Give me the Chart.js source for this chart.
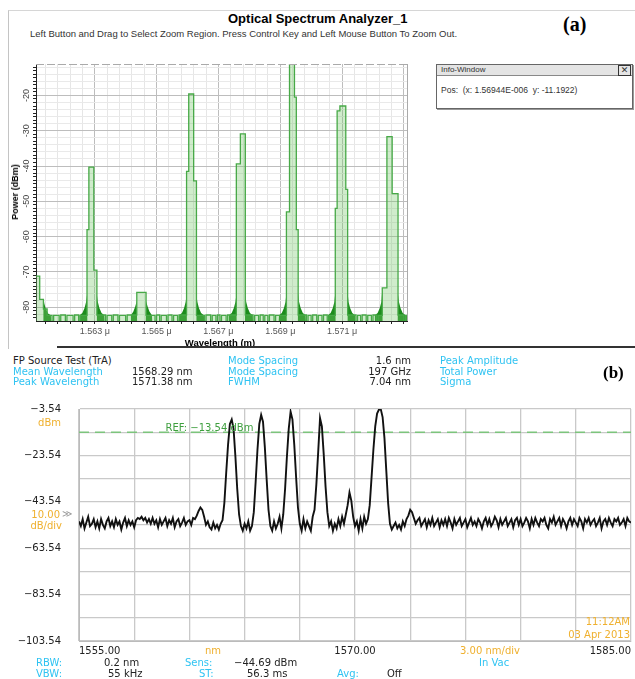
<!DOCTYPE html>
<html>
<head>
<meta charset="utf-8">
<script src="https://cdn.jsdelivr.net/npm/chart.js@4.4.1/dist/chart.umd.min.js"></script>
<style>
body { margin:0; width:635px; height:679px; background:#fff; position:relative; overflow:hidden; font-family:"Liberation Sans", Arial, sans-serif; }
.t { position:absolute; white-space:nowrap; }
.b { font:10px "DejaVu Sans"; line-height:11px; color:#222; }
.cy { color:#2fc3f2; }
.or { color:#efb02e; }
.r { text-align:right; }
</style>
</head>
<body>

<!-- (a) optical spectrum analyzer window -->
<div style="position:absolute;left:8px;top:10px;width:627px;height:338px;border-left:1px solid #c4c4c4;border-top:1px solid #d6d6d6"></div>
<div class="t" style="left:228px;top:11px;font:bold 13px 'Liberation Sans'">Optical Spectrum Analyzer_1</div>
<div class="t" style="left:30px;top:28px;font:9.5px 'Liberation Sans';color:#333">Left Button and Drag to Select Zoom Region. Press Control Key and Left Mouse Button To Zoom Out.</div>
<div class="t" style="left:563px;top:13px;font:bold 20px 'Liberation Serif'">(a)</div>

<div style="position:absolute;left:436px;top:64px;width:195px;height:43px;border:1px solid #666;box-shadow:1px 1px 0 #999;background:#fff">
  <div style="position:relative;height:10px;background:#e4e4e4;border-bottom:1px solid #888;font:8px 'Liberation Sans';line-height:10px;padding-left:4px;color:#333">Info-Window
    <div style="position:absolute;right:1px;top:0;width:11px;height:9px;border:1px solid #333;font:bold 9px 'DejaVu Sans';line-height:9px;text-align:center">&#x2715;</div>
  </div>
  <div style="font:8.5px 'Liberation Sans';padding:9px 0 0 4px;color:#333;white-space:nowrap">Pos:&nbsp; (x: 1.56944E-006&nbsp; y: -11.1922)</div>
</div>

<div style="position:absolute;left:0;top:50px"><canvas id="osa" width="420" height="300"></canvas></div>
<div class="t" style="left:15px;top:192px;transform:translate(-50%,-50%) rotate(-90deg);font:bold 9px 'Liberation Sans'">Power (dBm)</div>
<div class="t" style="left:220px;top:342px;transform:translate(-50%,-50%);font:bold 9.5px 'Liberation Sans'">Wavelength (m)</div>
<div style="position:absolute;left:57px;top:346px;width:578px;height:2px;background:#333"></div>

<!-- (b) FP source test -->
<div class="t b" style="left:13px;top:355px">FP Source Test (TrA)</div>
<div class="t b cy" style="left:228px;top:355px">Mode Spacing</div>
<div class="t b r" style="right:224px;top:355px">1.6 nm</div>
<div class="t b cy" style="left:440px;top:355px">Peak Amplitude</div>

<div class="t b cy" style="left:13px;top:366px">Mean Wavelength</div>
<div class="t b" style="left:132px;top:366px">1568.29 nm</div>
<div class="t b cy" style="left:228px;top:366px">Mode Spacing</div>
<div class="t b r" style="right:224px;top:366px">197 GHz</div>
<div class="t b cy" style="left:440px;top:366px">Total Power</div>
<div class="t" style="left:603px;top:363px;font:bold 17px 'Liberation Serif'">(b)</div>

<div class="t b cy" style="left:13px;top:376px">Peak Wavelength</div>
<div class="t b" style="left:132px;top:376px">1571.38 nm</div>
<div class="t b cy" style="left:228px;top:376px">FWHM</div>
<div class="t b r" style="right:224px;top:376px">7.04 nm</div>
<div class="t b cy" style="left:440px;top:376px">Sigma</div>

<div style="position:absolute;left:0;top:385px"><canvas id="fp" width="635" height="285"></canvas></div>

<div class="t b or r" style="right:574px;top:417px">dBm</div>
<div class="t b or r" style="right:575px;top:509px">10.00</div>
<div class="t" style="left:62px;top:508px;font:10px 'DejaVu Sans';color:#999">&#x226B;</div>
<div class="t b or r" style="right:573px;top:520px">dB/div</div>

<div class="t b or" style="left:205px;top:645px">nm</div>
<div class="t b or" style="left:460px;top:645px">3.00 nm/div</div>
<div class="t b or r" style="right:5px;top:616px">11:12AM</div>
<div class="t b or r" style="right:5px;top:629px">03 Apr 2013</div>

<div class="t b cy" style="left:36px;top:657px">RBW:</div>
<div class="t b" style="left:104px;top:657px">0.2 nm</div>
<div class="t b cy" style="left:185px;top:657px">Sens:</div>
<div class="t b" style="left:234px;top:657px">&minus;44.69 dBm</div>
<div class="t b cy" style="left:479px;top:657px">In Vac</div>
<div class="t b cy" style="left:36px;top:668px">VBW:</div>
<div class="t b" style="left:108px;top:668px">55 kHz</div>
<div class="t b cy" style="left:199px;top:668px">ST:</div>
<div class="t b" style="left:247px;top:668px">56.3 ms</div>
<div class="t b cy" style="left:337px;top:668px">Avg:</div>
<div class="t b" style="left:387px;top:668px">Off</div>

<script>
// (a) OSA trace, stepped: each power holds from its wavelength to the next (nm, dBm)
const osaWl = [
  1561.10, 1561.22, 1561.34, 1561.46, 1561.62, 1561.67, 1561.85, 1561.90, 1562.05, 1562.10,
  1562.30, 1562.35, 1562.48, 1562.53, 1562.75, 1562.81, 1562.97, 1563.07, 1563.35, 1563.40,
  1563.55, 1563.60, 1563.75, 1563.80, 1564.00, 1564.05, 1564.36, 1564.66, 1564.95, 1565.00,
  1565.10, 1565.15, 1565.32, 1565.37, 1565.50, 1565.55, 1565.68, 1565.73, 1565.97, 1566.04,
  1566.20, 1566.29, 1566.55, 1566.60, 1566.75, 1566.80, 1566.92, 1566.97, 1567.05, 1567.10,
  1567.25, 1567.30, 1567.58, 1567.71, 1567.87, 1568.12, 1568.17, 1568.30, 1568.35, 1568.45,
  1568.50, 1568.60, 1568.65, 1568.80, 1568.85, 1569.20, 1569.30, 1569.46, 1569.52, 1569.58,
  1569.85, 1569.90, 1570.00, 1570.05, 1570.18, 1570.23, 1570.35, 1570.40, 1570.52, 1570.57,
  1570.78, 1570.84, 1570.93, 1571.12, 1571.18, 1571.45, 1571.50, 1571.60, 1571.65, 1571.78,
  1571.83, 1571.95, 1572.00, 1572.12, 1572.17, 1572.30, 1572.45, 1572.62, 1572.81, 1573.00,
  1573.05, 1573.10];
const osaDbm = [
  -71.2, -77.8, -80.5, -82.3, -84, -82.3, -84, -82.2, -84, -82.3,
  -84, -82.2, -84, -82.3, -58.0, -40.3, -69.5, -82.2, -84, -82.3,
  -84, -82.2, -84, -82.3, -84, -82.2, -75.8, -82.3, -84, -82.2,
  -84, -82.3, -84, -82.2, -84, -82.3, -84, -82.2, -41.5, -19.6,
  -44.2, -82.3, -84, -82.2, -84, -82.3, -84, -82.2, -84, -82.3,
  -84, -82.2, -39.4, -30.9, -82.2, -84, -82.3, -84, -82.2, -84,
  -82.3, -84, -82.2, -84, -82.3, -53.0, -11.2, -20.5, -58.0, -82.2,
  -84, -82.3, -84, -82.2, -84, -82.3, -84, -82.2, -84, -82.3,
  -52.0, -24.4, -23.0, -46.6, -82.2, -84, -82.3, -84, -82.2, -84,
  -82.3, -84, -82.2, -84, -82.3, -74.5, -31.7, -47.8, -82.2, -84,
  -82.3, -82.3];

// dark noise skirts at the foot of every line
const osaSkirtWl = [
  1561.10, 1561.33, 1561.34, 1561.37, 1561.42, 1561.49, 1561.58, 1561.59,
  1562.50, 1562.51, 1562.60, 1562.67, 1562.72, 1562.75, 1562.76, 1563.06, 1563.07, 1563.10, 1563.15, 1563.22, 1563.31, 1563.32,
  1564.16, 1564.17, 1564.25, 1564.31, 1564.36, 1564.37, 1564.65, 1564.66, 1564.71, 1564.77, 1564.85, 1564.86,
  1565.72, 1565.73, 1565.82, 1565.89, 1565.94, 1565.97, 1565.98, 1566.28, 1566.29, 1566.32, 1566.37, 1566.44, 1566.53, 1566.54,
  1567.33, 1567.34, 1567.43, 1567.50, 1567.55, 1567.58, 1567.59, 1567.86, 1567.87, 1567.90, 1567.95, 1568.02, 1568.11, 1568.12,
  1568.95, 1568.96, 1569.05, 1569.12, 1569.17, 1569.20, 1569.21, 1569.57, 1569.58, 1569.61, 1569.66, 1569.73, 1569.82, 1569.83,
  1570.53, 1570.54, 1570.63, 1570.70, 1570.75, 1570.78, 1570.79, 1571.17, 1571.18, 1571.21, 1571.26, 1571.33, 1571.42, 1571.43,
  1572.05, 1572.06, 1572.15, 1572.22, 1572.27, 1572.30, 1572.31, 1572.80, 1572.81, 1572.84, 1572.89, 1572.96, 1573.05, 1573.10];
const osaSkirtDbm = [
  -84, -84, -77.5, -79.0, -80.5, -81.8, -82.3, -84,
  -84, -82.3, -81.6, -80.2, -78.5, -76.5, -84, -84, -76.5, -78.5, -80.2, -81.6, -82.3, -84,
  -84, -82.3, -81.2, -79.8, -78.2, -84, -84, -78.2, -79.8, -81.2, -82.3, -84,
  -84, -82.3, -81.6, -80.2, -78.5, -76.5, -84, -84, -76.5, -78.5, -80.2, -81.6, -82.3, -84,
  -84, -82.3, -81.6, -80.2, -78.5, -76.5, -84, -84, -76.5, -78.5, -80.2, -81.6, -82.3, -84,
  -84, -82.3, -81.6, -80.2, -78.5, -76.0, -84, -84, -76.0, -78.5, -80.2, -81.6, -82.3, -84,
  -84, -82.3, -81.6, -80.2, -78.5, -76.0, -84, -84, -76.0, -78.5, -80.2, -81.6, -82.3, -84,
  -84, -82.3, -81.6, -80.2, -78.5, -75.0, -84, -84, -76.5, -78.5, -80.2, -81.6, -82.3, -82.3];

const osaYLabels = [-80, -70, -60, -50, -40, -30, -20];
const osaXLabels = [1563, 1565, 1567, 1569, 1571];

// (b) FP source trace, one reading every 0.1 nm from 1555.0 nm (dBm)
const fpStart = 1555.0;
const fpStep = 0.1;
const fpDbm = [
  -52, -54, -51, -55, -52.5, -50, -54, -53, -51, -54.5,
  -52, -55, -51, -53.5, -55, -52, -50.5, -54, -52, -54.5,
  -51, -53.5, -52, -55.5, -52.5, -50.5, -54, -51.5, -53.5, -52,
  -54.5, -51.5, -50.5, -51, -50, -51.5, -50.5, -52.5, -51, -53,
  -50.5, -53, -51.5, -54.5, -51, -53.5, -52, -50.5, -54, -51.5,
  -53, -50.5, -54.5, -52, -51, -54, -52.5, -50.5, -53.5, -52,
  -51.5, -53.5, -50.5, -51, -49.5, -47.5, -46, -47, -50, -53.5,
  -52, -54.5, -55.5, -52.5, -55, -53.5, -55.5, -53, -51.5, -44,
  -31, -19, -10, -8.1, -12, -24, -38, -49, -54, -56,
  -53, -55, -52, -56, -54, -48, -35, -21, -10, -6.1,
  -9, -20, -34, -47, -54, -56, -52, -55, -53, -50,
  -55, -49, -38, -24, -12, -4.7, -8, -19, -33, -46,
  -53, -56, -51, -55, -52, -54, -56, -50, -47, -36,
  -22, -7.5, -11, -23, -37, -48, -54, -52, -56, -53,
  -55, -51, -54, -50, -53, -49, -45, -39.5, -43, -50,
  -54, -52, -56, -51, -55, -50, -53, -51, -45, -33,
  -21, -11, -5.5, -3.8, -3.6, -7, -16, -30, -44, -53,
  -55.5, -54, -52.5, -55, -53.5, -55.5, -52, -54, -51, -49.5,
  -47, -48, -50.5, -53, -51.5, -50.5, -54, -52.5, -51, -54.5,
  -51.5, -53.5, -50.5, -54, -52.5, -51, -54.5, -51.5, -53.5, -51,
  -54, -50.5, -52.5, -55, -51, -53.5, -52, -50.5, -54, -52.5,
  -51, -54.5, -52.5, -50.5, -53.5, -52, -54, -51, -52.5, -55,
  -52, -50.5, -53.5, -51, -54, -52.5, -50, -51.5, -54.5, -51,
  -53.5, -52, -50.5, -54, -52.5, -51, -54.5, -51.5, -50.5, -53.5,
  -51, -54, -52.5, -50.5, -52, -55, -51, -53.5, -50.5, -52.5,
  -54, -51, -52, -50.5, -53.5, -55, -51, -52.5, -50, -53.5,
  -52, -50.5, -54, -51, -52.5, -55, -52, -50.5, -53.5, -51,
  -52.5, -54, -50.5, -52, -55, -51, -52.5, -50.5, -53.5, -52,
  -51, -54, -52.5, -50.5, -55, -52, -51, -53.5, -50.5, -52.5,
  -54, -51, -52, -50.5, -53.5, -52.5, -51, -54, -50.5, -52, -52.5];
const fpRef = -13.54;
const fpYTicks = [-103.54, -93.54, -83.54, -73.54, -63.54, -53.54, -43.54, -33.54, -23.54, -13.54, -3.54];
const fpYLabels = [-103.54, -83.54, -63.54, -43.54, -23.54, -3.54];
const fpXTicks = [1555, 1558, 1561, 1564, 1567, 1570, 1573, 1576, 1579, 1582, 1585];
const fpXLabels = [1555, 1570, 1585];

const isMajorX = v => Math.abs((v - 1563) / 2 - Math.round((v - 1563) / 2)) < 1e-6;

const osaFrame = {
  id: 'osaFrame',
  afterDraw(chart) {
    const { ctx, chartArea: a, scales: { y } } = chart;
    ctx.save();
    ctx.strokeStyle = '#aaa';
    ctx.lineWidth = 1;
    ctx.beginPath(); ctx.moveTo(a.right + 0.5, a.top); ctx.lineTo(a.right + 0.5, a.bottom); ctx.stroke();
    ctx.setLineDash([8, 3]);
    ctx.beginPath(); ctx.moveTo(a.left, a.top + 0.5); ctx.lineTo(a.right, a.top + 0.5); ctx.stroke();
    ctx.setLineDash([]);
    ctx.fillStyle = '#444';
    ctx.font = '9px "Liberation Sans"';
    ctx.textAlign = 'center';
    ctx.textBaseline = 'middle';
    osaYLabels.forEach(v => {
      ctx.save();
      ctx.translate(a.left - 9, y.getPixelForValue(v));
      ctx.rotate(-Math.PI / 2);
      ctx.fillText(String(v), 0, 0);
      ctx.restore();
    });
    ctx.restore();
  }
};

new Chart(document.getElementById('osa'), {
  type: 'line',
  data: {
    datasets: [
      {
        data: osaWl.map((x, i) => ({ x: x, y: osaDbm[i] })),
        stepped: true,
        borderColor: '#47a947',
        borderWidth: 1.3,
        backgroundColor: 'rgba(120, 200, 110, 0.35)',
        fill: 'start',
        pointRadius: 0,
        order: 0
      },
      {
        data: osaSkirtWl.map((x, i) => ({ x: x, y: osaSkirtDbm[i] })),
        borderWidth: 0,
        backgroundColor: '#1c8c1c',
        fill: 'start',
        pointRadius: 0,
        order: 1
      }
    ]
  },
  options: {
    responsive: false,
    animation: false,
    events: [],
    layout: { padding: { top: 14, right: 13, left: 0, bottom: 0 } },
    plugins: { legend: { display: false }, tooltip: { enabled: false } },
    scales: {
      x: {
        type: 'linear',
        min: 1561.1,
        max: 1573.1,
        afterBuildTicks: s => {
          const t = [];
          for (let k = 0; k <= 29; k++) t.push({ value: Math.round((1561.4 + 0.4 * k) * 10) / 10 });
          s.ticks = t;
        },
        afterFit: s => { s.height = 29; },
        grid: {
          color: c => (c.tick && isMajorX(c.tick.value)) ? '#bdbdbd' : '#e6e6e6',
          tickColor: '#222',
          tickLength: 3
        },
        border: { color: '#222' },
        ticks: {
          autoSkip: false,
          maxRotation: 0,
          padding: 2,
          color: '#555',
          font: { size: 9, family: 'Liberation Sans' },
          callback: v => osaXLabels.includes(v) ? (v / 1000).toFixed(3) + ' \u03bc' : ''
        }
      },
      y: {
        min: -83.9,
        max: -11.1,
        afterBuildTicks: s => {
          const t = [];
          for (let v = -83; v <= -12; v++) t.push({ value: v });
          s.ticks = t;
        },
        afterFit: s => { s.width = 36; },
        grid: {
          color: c => {
            if (!c.tick) return 'rgba(0,0,0,0)';
            if (c.tick.value % 10 === 0) return '#bdbdbd';
            if (c.tick.value % 2 === 0) return '#e9e9e9';
            return 'rgba(0,0,0,0)';
          },
          tickColor: '#222',
          tickLength: 3
        },
        border: { color: '#222' },
        ticks: { display: false }
      }
    }
  },
  plugins: [osaFrame]
});

const fpRefLabel = {
  id: 'fpRefLabel',
  afterDatasetsDraw(chart) {
    const { ctx, scales: { x, y } } = chart;
    ctx.save();
    ctx.fillStyle = '#3f9f3f';
    ctx.font = '10px "DejaVu Sans"';
    ctx.textBaseline = 'alphabetic';
    ctx.fillText('REF: \u221213.54 dBm', x.getPixelForValue(1559.7), y.getPixelForValue(fpRef) - 1);
    ctx.restore();
  }
};

new Chart(document.getElementById('fp'), {
  type: 'line',
  data: {
    datasets: [
      {
        data: fpDbm.map((v, i) => ({ x: fpStart + i * fpStep, y: v })),
        borderColor: '#111',
        borderWidth: 1.9,
        pointRadius: 0,
        tension: 0,
        order: 0
      },
      {
        data: [{ x: 1555, y: fpRef }, { x: 1585, y: fpRef }],
        borderColor: '#7cc47c',
        borderWidth: 1.5,
        borderDash: [10, 6],
        pointRadius: 0,
        order: 1
      }
    ]
  },
  options: {
    responsive: false,
    animation: false,
    events: [],
    layout: { padding: { top: 13, right: 4, left: 0, bottom: 0 } },
    plugins: { legend: { display: false }, tooltip: { enabled: false } },
    scales: {
      x: {
        type: 'linear',
        min: 1555,
        max: 1585,
        afterBuildTicks: s => { s.ticks = fpXTicks.map(v => ({ value: v })); },
        afterFit: s => { s.height = 29; },
        grid: { color: '#c9c9c9', lineWidth: 1.3, drawTicks: false },
        border: { color: '#bbb' },
        ticks: {
          autoSkip: false,
          maxRotation: 0,
          align: 'inner',
          padding: 4,
          color: '#222',
          font: { size: 10, family: 'DejaVu Sans' },
          callback: v => fpXLabels.includes(v) ? v.toFixed(2) : ''
        }
      },
      y: {
        min: -103.54,
        max: -3.54,
        afterBuildTicks: s => { s.ticks = fpYTicks.map(v => ({ value: v })); },
        afterFit: s => { s.width = 79; },
        grid: { color: '#c9c9c9', lineWidth: 1.3, drawTicks: false },
        border: { color: '#bbb' },
        ticks: {
          padding: 18,
          color: '#222',
          font: { size: 10, family: 'DejaVu Sans' },
          callback: v => fpYLabels.includes(v) ? '\u2212' + Math.abs(v).toFixed(2) : ''
        }
      }
    }
  },
  plugins: [fpRefLabel]
});
</script>
</body>
</html>
